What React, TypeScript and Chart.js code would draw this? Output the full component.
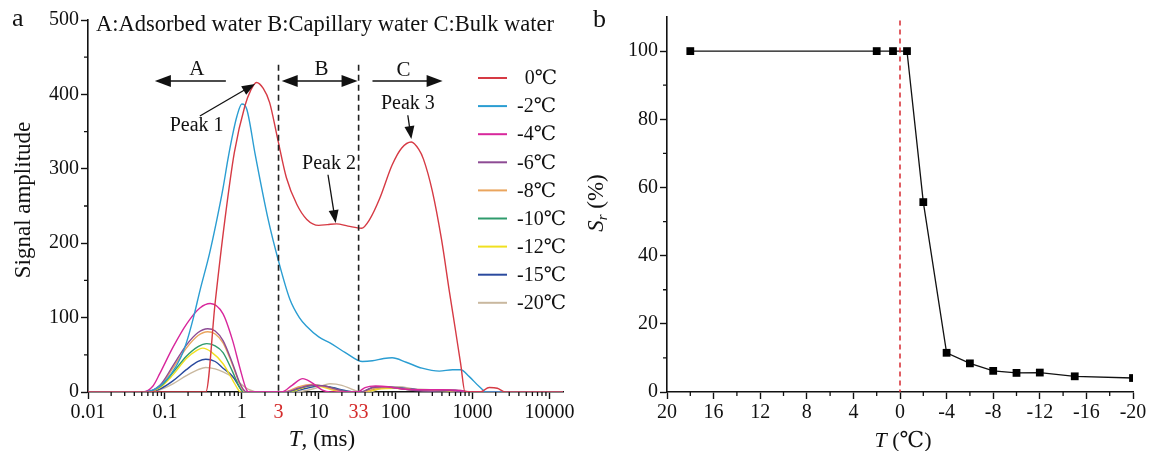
import React, { useEffect, useRef } from 'react';
import { Chart, registerables } from 'chart.js';

Chart.register(...registerables);

const SERIF = "'Liberation Serif', 'Times New Roman', 'DejaVu Serif', serif";

// ---------------- Panel a data ----------------
const seriesLabels = ['0℃', '-2℃', '-4℃', '-6℃', '-8℃', '-10℃', '-12℃', '-15℃', '-20℃'];
const seriesColors = ['#d63a44', '#2a9dd2', '#d8279c', '#8d4b94', '#eaa55e', '#2f9b6c', '#f0e020', '#2a4a9e', '#c9b89f'];

const curve0C: [number, number][] = [
  [0.01, 0], [0.34, 0], [0.45, 120], [0.6, 230], [0.8, 322], [1.1, 385], [1.3, 405], [1.55, 416], [1.9, 408],
  [2.3, 389], [2.9, 342], [3.8, 288], [5.2, 252], [7, 232], [10, 224], [13, 225], [17, 226], [24, 223], [36, 220],
  [46, 232], [62, 260], [90, 305], [120, 328], [160, 336], [200, 326], [230, 313], [300, 270], [395, 205],
  [500, 135], [600, 83], [700, 38], [800, 0], [1250, 0], [1650, 6], [2100, 5], [2700, 0], [15000, 0],
];
const curveM2C: [number, number][] = [
  [0.01, 0], [0.05, 0], [0.08, 6], [0.12, 24], [0.16, 46], [0.19, 66], [0.235, 100], [0.285, 136], [0.38, 186],
  [0.47, 230], [0.57, 274], [0.66, 313], [0.76, 346], [0.86, 370], [1.0, 387], [1.16, 380], [1.5, 318], [2.2, 232],
  [3, 176], [4.2, 125], [5.6, 100], [7, 88], [10, 74], [14, 66], [23, 52], [37, 41], [50, 42], [70, 45], [90, 46],
  [137, 40], [220, 32], [370, 28], [550, 30], [700, 30], [900, 21], [1230, 7], [1520, 0], [15000, 0],
];
const curveM4C: [number, number][] = [
  [0.01, 0], [0.052, 0], [0.07, 8], [0.086, 25], [0.127, 60], [0.193, 92], [0.285, 113], [0.39, 119], [0.57, 105],
  [0.76, 69], [0.94, 33], [1.15, 3], [1.25, 0], [3.3, 0], [4.5, 9], [6.2, 18], [8, 13], [11, 3], [14, 0], [32, 0],
  [40, 6], [55, 8], [80, 7], [120, 4], [200, 3], [400, 3], [700, 2], [900, 0], [15000, 0],
];
const curveM6C: [number, number][] = [
  [0.01, 0], [0.055, 0], [0.086, 9], [0.127, 35], [0.19, 63], [0.27, 80], [0.36, 85], [0.45, 82], [0.57, 69],
  [0.76, 38], [0.94, 12], [1.1, 1], [1.2, 0], [3.6, 0], [5.5, 5], [8, 9], [12, 8], [18, 3], [26, 0], [35, 0],
  [50, 6], [75, 7], [110, 5], [180, 2], [300, 1], [500, 2], [800, 0], [15000, 0],
];
const curveM8C: [number, number][] = [
  [0.01, 0], [0.055, 0], [0.086, 8], [0.127, 32], [0.19, 59], [0.27, 76], [0.36, 81], [0.45, 78], [0.57, 66],
  [0.76, 36], [0.94, 11], [1.1, 0], [3.5, 0], [5.5, 7], [8, 10], [11, 8], [16, 3], [22, 0], [38, 0], [55, 5],
  [85, 6], [130, 4], [250, 2], [500, 2], [800, 0], [15000, 0],
];
const curveM10C: [number, number][] = [
  [0.01, 0], [0.055, 0], [0.086, 7], [0.127, 26], [0.19, 48], [0.27, 61], [0.35, 65], [0.45, 62], [0.57, 53],
  [0.76, 27], [0.94, 6], [1.05, 0], [3.8, 0], [6, 6], [9, 9], [13, 7], [20, 2], [28, 0], [36, 0], [55, 7],
  [90, 6], [150, 3], [300, 2], [600, 2], [900, 0], [15000, 0],
];
const curveM12C: [number, number][] = [
  [0.01, 0], [0.055, 0], [0.086, 6], [0.127, 23], [0.19, 45], [0.26, 56], [0.31, 59], [0.4, 54], [0.57, 38],
  [0.76, 16], [0.9, 3], [0.96, 0], [4, 0], [6, 5], [8, 9], [11, 7], [16, 2], [22, 0], [40, 0], [60, 4],
  [100, 5], [170, 3], [400, 2], [700, 0], [15000, 0],
];
const curveM15C: [number, number][] = [
  [0.01, 0], [0.06, 0], [0.086, 4], [0.127, 15], [0.19, 30], [0.27, 41], [0.34, 44], [0.45, 41], [0.57, 32],
  [0.76, 21], [0.94, 6], [1.05, 0], [4, 0], [7, 5], [10, 8], [15, 6], [22, 2], [30, 0], [40, 0], [60, 5],
  [95, 6], [160, 4], [300, 2], [600, 2], [850, 0], [15000, 0],
];
const curveM20C: [number, number][] = [
  [0.01, 0], [0.06, 0], [0.086, 3], [0.127, 11], [0.19, 22], [0.27, 30], [0.34, 33], [0.45, 31], [0.57, 27],
  [0.76, 20], [0.94, 12], [1.2, 4], [1.7, 0], [5, 0], [9, 5], [14, 11], [20, 9], [28, 3], [36, 0], [45, 0],
  [70, 6], [110, 7], [180, 4], [350, 3], [700, 2], [1000, 0], [15000, 0],
];
const curves = [curve0C, curveM2C, curveM4C, curveM6C, curveM8C, curveM10C, curveM12C, curveM15C, curveM20C];

const xTicksA = [0.01, 0.1, 1, 10, 100, 1000, 10000];
const boundaryTicksA = [3, 33];
const yTicksA = [0, 100, 200, 300, 400, 500];

// ---------------- Panel b data ----------------
const tempB = [18, 2, 0.6, -0.6, -2, -4, -6, -8, -10, -12, -15, -20];
const satB = [100, 100, 100, 100, 55.7, 11.5, 8.4, 6.2, 5.6, 5.7, 4.6, 4.1];
const xTicksB = [20, 16, 12, 8, 4, 0, -4, -8, -12, -16, -20];
const yTicksB = [0, 20, 40, 60, 80, 100];

// ---------------- helpers ----------------
type Seg = { t: string; font: string; dy?: number };
function drawSegs(ctx: CanvasRenderingContext2D, segs: Seg[], cx: number, cy: number, rotate = false, color = '#111') {
  ctx.save();
  ctx.translate(cx, cy);
  if (rotate) ctx.rotate(-Math.PI / 2);
  ctx.textBaseline = 'middle';
  ctx.textAlign = 'left';
  ctx.fillStyle = color;
  let total = 0;
  for (const s of segs) { ctx.font = s.font; total += ctx.measureText(s.t).width; }
  let xx = -total / 2;
  for (const s of segs) { ctx.font = s.font; ctx.fillText(s.t, xx, s.dy || 0); xx += ctx.measureText(s.t).width; }
  ctx.restore();
}

function arrow(ctx: CanvasRenderingContext2D, x1: number, y1: number, x2: number, y2: number,
  startHead: boolean, endHead: boolean, len: number, half: number, lw: number) {
  const ang = Math.atan2(y2 - y1, x2 - x1);
  const c = Math.cos(ang), s = Math.sin(ang);
  let sx = x1, sy = y1, ex = x2, ey = y2;
  if (startHead) { sx += c * len * 0.7; sy += s * len * 0.7; }
  if (endHead) { ex -= c * len * 0.7; ey -= s * len * 0.7; }
  ctx.lineWidth = lw;
  ctx.beginPath(); ctx.moveTo(sx, sy); ctx.lineTo(ex, ey); ctx.stroke();
  const head = (tx: number, ty: number, dir: number) => {
    const bx = tx - dir * c * len, by = ty - dir * s * len;
    ctx.beginPath();
    ctx.moveTo(tx, ty);
    ctx.lineTo(bx - s * half, by + c * half);
    ctx.lineTo(bx + s * half, by - c * half);
    ctx.closePath();
    ctx.fill();
  };
  if (endHead) head(x2, y2, 1);
  if (startHead) head(x1, y1, -1);
}

const panelAPlugin = {
  id: 'panelA',
  afterDraw(chart: any) {
    const { ctx } = chart;
    const xs = chart.scales.x, ys = chart.scales.y;
    const X = (v: number) => xs.getPixelForValue(v);
    const Y = (v: number) => ys.getPixelForValue(v);
    const bottom = Y(0);
    const left = X(0.01);
    ctx.save();
    ctx.strokeStyle = '#111';
    ctx.fillStyle = '#111';
    ctx.lineWidth = 1.3;
    ctx.beginPath();
    for (let e = -2; e <= 4; e++) {
      for (let k = 2; k <= 9; k++) {
        const v = k * Math.pow(10, e);
        if (v > xs.max) continue;
        const px = X(v);
        ctx.moveTo(px, bottom); ctx.lineTo(px, bottom + 4);
      }
    }
    for (let v = 50; v < 500; v += 100) {
      const py = Y(v);
      ctx.moveTo(left, py); ctx.lineTo(left - 4, py);
    }
    ctx.stroke();

    // boundary dashed lines
    ctx.setLineDash([6, 4]);
    ctx.lineWidth = 1.6;
    ctx.strokeStyle = '#222';
    for (const v of boundaryTicksA) {
      ctx.beginPath(); ctx.moveTo(X(v), Y(440)); ctx.lineTo(X(v), bottom); ctx.stroke();
    }
    ctx.setLineDash([]);

    // region arrows
    ctx.strokeStyle = '#111';
    arrow(ctx, X(0.62), Y(418), X(0.074), Y(418), false, true, 16, 6, 1.6);
    arrow(ctx, X(3.3), Y(418), X(32), Y(418), true, true, 16, 6, 1.6);
    arrow(ctx, X(50), Y(418), X(408), Y(418), false, true, 16, 6, 1.6);
    ctx.font = `21px ${SERIF}`;
    ctx.textAlign = 'center';
    ctx.textBaseline = 'middle';
    ctx.fillText('A', X(0.26), Y(434));
    ctx.fillText('B', X(10.9), Y(434));
    ctx.fillText('C', X(127), Y(432));

    // peak annotations
    ctx.font = `20px ${SERIF}`;
    ctx.fillText('Peak 1', X(0.258), Y(358));
    ctx.fillText('Peak 2', X(13.6), Y(307));
    ctx.fillText('Peak 3', X(144), Y(387));
    arrow(ctx, X(0.285), Y(371), X(1.48), Y(414), false, true, 13, 5, 1.3);
    arrow(ctx, X(13.2), Y(292), X(16.6), Y(227), false, true, 13, 5, 1.3);
    arrow(ctx, X(144), Y(372), X(160), Y(340), false, true, 13, 5, 1.3);

    // header
    ctx.textAlign = 'left';
    ctx.font = `22.5px ${SERIF}`;
    ctx.fillText('A:Adsorbed water B:Capillary water C:Bulk water', 96, 25);

    // panel letter
    ctx.font = `26px ${SERIF}`;
    ctx.fillText('a', 12, 19);

    // axis titles
    drawSegs(ctx, [{ t: 'Signal amplitude', font: `23px ${SERIF}` }], 24, 200, true);
    drawSegs(ctx, [{ t: 'T', font: `italic 23px ${SERIF}` }, { t: ', (ms)', font: `23px ${SERIF}` }], 322, 440);

    // legend
    ctx.font = `20px ${SERIF}`;
    const dashW = ctx.measureText('-').width;
    seriesLabels.forEach((lab, i) => {
      const yy = 78 + i * 28.1;
      ctx.strokeStyle = seriesColors[i];
      ctx.lineWidth = 2;
      ctx.beginPath(); ctx.moveTo(478, yy); ctx.lineTo(507, yy); ctx.stroke();
      ctx.fillStyle = '#111';
      const off = lab.startsWith('-') ? 0 : dashW + 1;
      ctx.fillText(lab, 517 + off, yy + 1);
    });
    ctx.restore();
  },
};

const panelBPlugin = {
  id: 'panelB',
  afterDraw(chart: any) {
    const { ctx } = chart;
    const xs = chart.scales.x, ys = chart.scales.y;
    const X = (v: number) => xs.getPixelForValue(v);
    const Y = (v: number) => ys.getPixelForValue(v);
    const bottom = Y(0);
    const left = X(20);
    ctx.save();
    ctx.strokeStyle = '#111';
    ctx.lineWidth = 1.3;
    ctx.beginPath();
    for (let v = 18; v > -20; v -= 4) { const px = X(v); ctx.moveTo(px, bottom); ctx.lineTo(px, bottom + 4); }
    for (let v = 10; v < 100; v += 20) { const py = Y(v); ctx.moveTo(left, py); ctx.lineTo(left - 4, py); }
    ctx.stroke();

    ctx.setLineDash([5, 4]);
    ctx.strokeStyle = '#d62a30';
    ctx.lineWidth = 1.5;
    ctx.beginPath(); ctx.moveTo(X(0), Y(109)); ctx.lineTo(X(0), bottom); ctx.stroke();
    ctx.setLineDash([]);

    ctx.fillStyle = '#111';
    ctx.font = `26px ${SERIF}`;
    ctx.textAlign = 'left';
    ctx.textBaseline = 'middle';
    ctx.fillText('b', 13, 20);

    drawSegs(ctx, [
      { t: 'S', font: `italic 23px ${SERIF}` },
      { t: 'r', font: `italic 15px ${SERIF}`, dy: 6 },
      { t: ' (%)', font: `23px ${SERIF}` },
    ], 17, 203, true);
    drawSegs(ctx, [{ t: 'T', font: `italic 22px ${SERIF}` }, { t: ' (℃)', font: `22px ${SERIF}` }], 323, 441);
    ctx.restore();
  },
};

function PanelA() {
  const ref = useRef<HTMLCanvasElement>(null);
  useEffect(() => {
    const allA = [...xTicksA, ...boundaryTicksA].sort((a, b) => a - b);
    const chart = new Chart(ref.current as HTMLCanvasElement, {
      type: 'line',
      data: {
        datasets: curves.map((c, i) => ({
          label: seriesLabels[i],
          data: c.map(([x, y]) => ({ x, y })),
          borderColor: seriesColors[i],
          borderWidth: 1.4,
          pointRadius: 0,
          fill: false,
          cubicInterpolationMode: 'monotone' as const,
        })),
      },
      options: {
        animation: false,
        responsive: false,
        events: [],
        layout: { padding: { top: 20, right: 17, left: 0, bottom: 0 } },
        plugins: { legend: { display: false }, tooltip: { enabled: false } },
        scales: {
          x: {
            type: 'logarithmic',
            min: 0.01,
            max: 15000,
            afterBuildTicks: (s: any) => { s.ticks = allA.map((v) => ({ value: v })); },
            afterFit: (s: any) => { s.height = 59; },
            ticks: {
              autoSkip: false,
              maxRotation: 0,
              padding: 2,
              font: { family: SERIF, size: 20 },
              color: (c: any) => (boundaryTicksA.includes(c.tick?.value) ? '#d42a2a' : '#111'),
              callback: (v: any) => String(v),
            },
            grid: {
              drawOnChartArea: false,
              drawTicks: true,
              tickLength: 7,
              tickWidth: 1.4,
              tickColor: (c: any) => (boundaryTicksA.includes(c.tick?.value) ? 'rgba(0,0,0,0)' : '#111'),
            },
            border: { display: true, color: '#111', width: 1.6 },
          },
          y: {
            type: 'linear',
            min: 0,
            max: 500,
            afterBuildTicks: (s: any) => { s.ticks = yTicksA.map((v) => ({ value: v })); },
            afterFit: (s: any) => { s.width = 88; },
            ticks: { padding: 2, font: { family: SERIF, size: 20 }, color: '#111' },
            grid: { drawOnChartArea: false, drawTicks: true, tickLength: 7, tickWidth: 1.4, tickColor: '#111' },
            border: { display: true, color: '#111', width: 1.6 },
          },
        },
      } as any,
      plugins: [panelAPlugin],
    });
    return () => chart.destroy();
  }, []);
  return <canvas ref={ref} width={580} height={451} style={{ position: 'absolute', left: 0, top: 0 }} />;
}

function PanelB() {
  const ref = useRef<HTMLCanvasElement>(null);
  useEffect(() => {
    const chart = new Chart(ref.current as HTMLCanvasElement, {
      type: 'line',
      data: {
        datasets: [{
          label: 'Sr',
          data: tempB.map((t, i) => ({ x: t, y: satB[i] })),
          borderColor: '#111',
          borderWidth: 1.3,
          pointStyle: 'rect',
          pointRadius: 5.5,
          pointBackgroundColor: '#000',
          pointBorderColor: '#000',
          pointBorderWidth: 0,
          tension: 0,
          fill: false,
        }],
      },
      options: {
        animation: false,
        responsive: false,
        events: [],
        layout: { padding: { top: 17, right: 20, left: 0, bottom: 0 } },
        plugins: { legend: { display: false }, tooltip: { enabled: false } },
        scales: {
          x: {
            type: 'linear',
            min: -20,
            max: 20,
            reverse: true,
            afterBuildTicks: (s: any) => { s.ticks = xTicksB.map((v) => ({ value: v })); },
            afterFit: (s: any) => { s.height = 59; },
            ticks: { autoSkip: false, maxRotation: 0, padding: 2, font: { family: SERIF, size: 20 }, color: '#111', callback: (v: any) => String(v) },
            grid: { drawOnChartArea: false, drawTicks: true, tickLength: 7, tickWidth: 1.4, tickColor: '#111' },
            border: { display: true, color: '#111', width: 1.6 },
          },
          y: {
            type: 'linear',
            min: 0,
            max: 110,
            afterBuildTicks: (s: any) => { s.ticks = yTicksB.map((v) => ({ value: v })); },
            afterFit: (s: any) => { s.width = 87; },
            ticks: { padding: 2, font: { family: SERIF, size: 20 }, color: '#111' },
            grid: { drawOnChartArea: false, drawTicks: true, tickLength: 7, tickWidth: 1.4, tickColor: '#111' },
            border: { display: true, color: '#111', width: 1.6 },
          },
        },
      } as any,
      plugins: [panelBPlugin],
    });
    return () => chart.destroy();
  }, []);
  return <canvas ref={ref} width={573} height={451} style={{ position: 'absolute', left: 580, top: 0 }} />;
}

export default function App() {
  return (
    <div style={{ position: 'absolute', left: 0, top: 0, width: 1153, height: 451, background: '#fff', overflow: 'hidden' }}>
      <PanelA />
      <PanelB />
    </div>
  );
}
